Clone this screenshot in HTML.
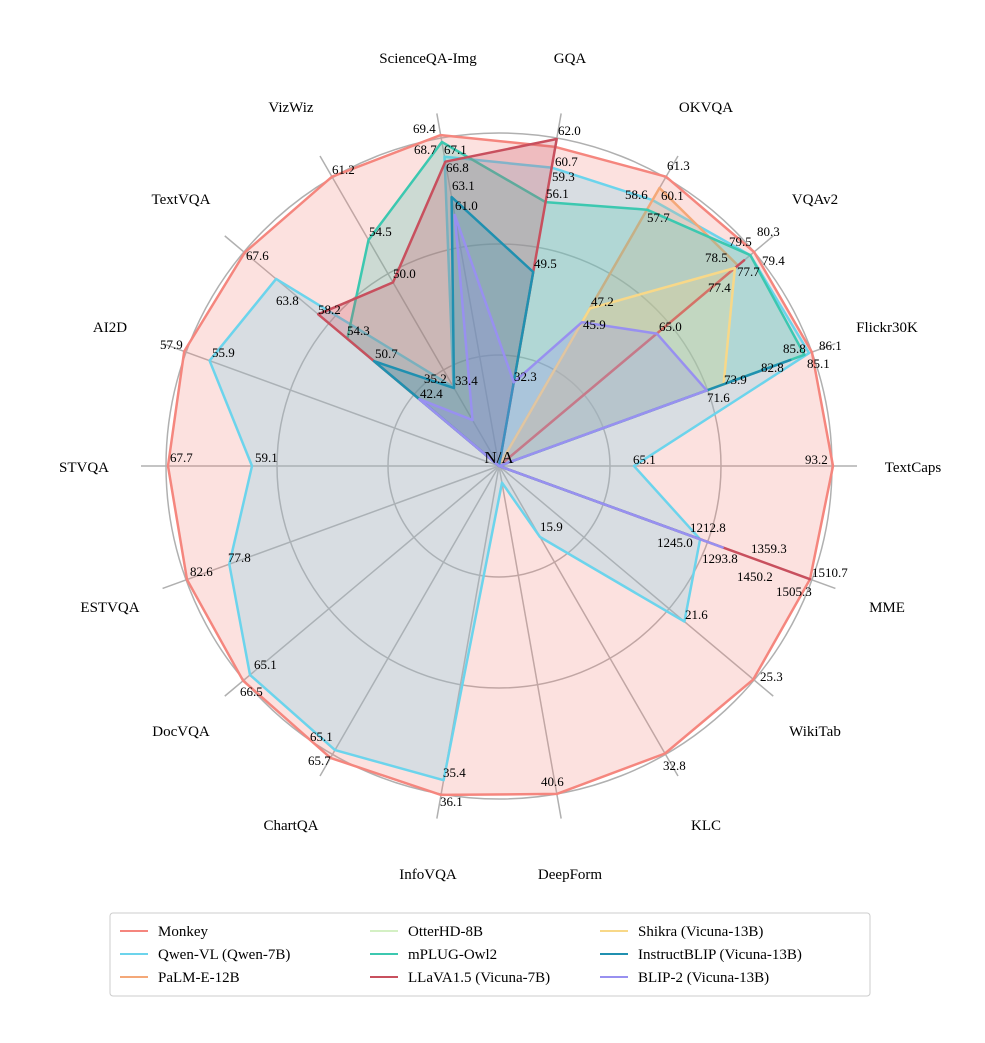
<!DOCTYPE html>
<html><head><meta charset="utf-8"><style>
body{margin:0;background:#fff}
svg{font-family:"Liberation Serif",serif}
</style></head><body>
<svg id="s" width="985" height="1038" xmlns="http://www.w3.org/2000/svg">
<rect width="985" height="1038" fill="#fff"/>
<g id="grid"></g><g id="polys"></g><g id="labels" font-size="13" fill="#000"></g>
<g font-size="15" text-anchor="middle">
<text x="428" y="63">ScienceQA-Img</text><text x="570" y="63">GQA</text>
<text x="706" y="112">OKVQA</text><text x="815" y="204">VQAv2</text>
<text x="887" y="332">Flickr30K</text><text x="913" y="472">TextCaps</text>
<text x="887" y="612">MME</text><text x="815" y="736">WikiTab</text>
<text x="706" y="830">KLC</text><text x="570" y="879">DeepForm</text>
<text x="428" y="879">InfoVQA</text><text x="291" y="830">ChartQA</text>
<text x="181" y="736">DocVQA</text><text x="110" y="612">ESTVQA</text>
<text x="84" y="472">STVQA</text><text x="110" y="332">AI2D</text>
<text x="181" y="204">TextVQA</text><text x="291" y="112">VizWiz</text>
</g>
<text x="499" y="463" font-size="17" text-anchor="middle">N/A</text>
<g>
<rect x="110" y="913" width="760" height="83" rx="3" fill="#fff" stroke="#ccc"/>
<g font-size="15">
<line x1="120" y1="931" x2="148" y2="931" stroke="#F5867E" stroke-width="2"/><text x="158" y="936">Monkey</text>
<line x1="120" y1="954" x2="148" y2="954" stroke="#6CD4EC" stroke-width="2"/><text x="158" y="959">Qwen-VL (Qwen-7B)</text>
<line x1="120" y1="977" x2="148" y2="977" stroke="#F4A878" stroke-width="2"/><text x="158" y="982">PaLM-E-12B</text>
<line x1="370" y1="931" x2="398" y2="931" stroke="#D4F0C4" stroke-width="2"/><text x="408" y="936">OtterHD-8B</text>
<line x1="370" y1="954" x2="398" y2="954" stroke="#3CC8B0" stroke-width="2"/><text x="408" y="959">mPLUG-Owl2</text>
<line x1="370" y1="977" x2="398" y2="977" stroke="#C8505E" stroke-width="2"/><text x="408" y="982">LLaVA1.5 (Vicuna-7B)</text>
<line x1="600" y1="931" x2="628" y2="931" stroke="#F8D888" stroke-width="2"/><text x="638" y="936">Shikra (Vicuna-13B)</text>
<line x1="600" y1="954" x2="628" y2="954" stroke="#2090B0" stroke-width="2"/><text x="638" y="959">InstructBLIP (Vicuna-13B)</text>
<line x1="600" y1="977" x2="628" y2="977" stroke="#9890F0" stroke-width="2"/><text x="638" y="982">BLIP-2 (Vicuna-13B)</text>
</g></g>
</svg>
<script>
var cx=499,cy=466,NS="http://www.w3.org/2000/svg";
function el(t,a,p){var e=document.createElementNS(NS,t);for(var k in a)e.setAttribute(k,a[k]);p.appendChild(e);return e;}
var g=document.getElementById("grid");
[111,222,333].forEach(function(r){el("circle",{cx:cx,cy:cy,r:r,fill:"none",stroke:"#b0b0b0","stroke-width":1.5},g);});
for(var i=0;i<18;i++){var a=i*20*Math.PI/180;el("line",{x1:cx,y1:cy,x2:cx+358*Math.cos(a),y2:cy-358*Math.sin(a),stroke:"#b0b0b0","stroke-width":1.5},g);}
// axes: TextCaps,Flickr,VQAv2,OKVQA,GQA,SciQA,VizWiz,TextVQA,AI2D,STVQA,ESTVQA,DocVQA,ChartQA,InfoVQA,DeepForm,KLC,WikiTab,MME
var S=[
["#F5867E",[334,333,333,334,324,336,334,332,335,331,332,334,337,334,333,332,332,331]],
["#6CD4EC",[135,330,328,307,303,314,91,291,308,247,287,325,328,319,17,82,242,214]],
["#F4A878",[0,0,312,321,0,0,0,0,0,0,0,0,0,0,0,0,0,0]],
["#3CC8B0",[0,325,328,296,268,329,261,198,0,0,0,0,0,0,0,0,0,0]],
["#C8505E",[0,0,320,0,332,309,212,236,0,0,0,0,0,0,0,0,0,331]],
["#F8D888",[0,239,308,182,0,0,0,0,0,0,0,0,0,0,0,0,0,0]],
["#2090B0",[0,310,0,0,197,273,90,163,0,0,0,0,0,0,0,0,0,215]],
["#9890F0",[0,221,206,166,85,255,53,104,0,0,0,0,0,0,0,0,0,238]]
];
var pg=document.getElementById("polys");
S.forEach(function(s){var pts=s[1].map(function(r,i){var a=i*20*Math.PI/180;return (cx+r*Math.cos(a)).toFixed(1)+","+(cy-r*Math.sin(a)).toFixed(1);}).join(" ");
el("polygon",{points:pts,fill:s[0],"fill-opacity":0.25,stroke:s[0],"stroke-width":2.5,"stroke-linejoin":"round"},pg);});
var L=[["69.4",413,133],["68.7",414,154],["67.1",444,154],["66.8",446,172],["63.1",452,190],["61.0",455,210],["61.2",332,174],["54.5",369,236],["50.0",393,278],["58.2",318,314],["54.3",347,335],["50.7",375,358],["35.2",424,383],["33.4",455,385],["42.4",420,398],["32.3",514,381],["49.5",534,268],["62.0",558,135],["60.7",555,166],["59.3",552,181],["56.1",546,198],
["61.3",667,170],["58.6",625,199],["60.1",661,200],["57.7",647,222],["80.3",757,236],["79.5",729,246],["79.4",762,265],["78.5",705,262],["77.7",737,276],["77.4",708,292],["47.2",591,306],["45.9",583,329],["65.0",659,331],["85.8",783,353],["86.1",819,350],["85.1",807,368],["82.8",761,372],["73.9",724,384],["71.6",707,402],["93.2",805,464],["65.1",633,464],
["1212.8",690,532],["1245.0",657,547],["1293.8",702,563],["1359.3",751,553],["1450.2",737,581],["1505.3",776,596],["1510.7",812,577],["15.9",540,531],["21.6",685,619],
["67.6",246,260],["63.8",276,305],["57.9",160,349],["55.9",212,357],["67.7",170,462],["59.1",255,462],["82.6",190,576],["77.8",228,562],["65.1",254,669],["66.5",240,696],["65.1",310,741],["65.7",308,765],["35.4",443,777],["36.1",440,806],["40.6",541,786],["32.8",663,770],["25.3",760,681]];
var lg=document.getElementById("labels");
L.forEach(function(l){el("text",{x:l[1],y:l[2]},lg).textContent=l[0];});
</script>
</body></html>
